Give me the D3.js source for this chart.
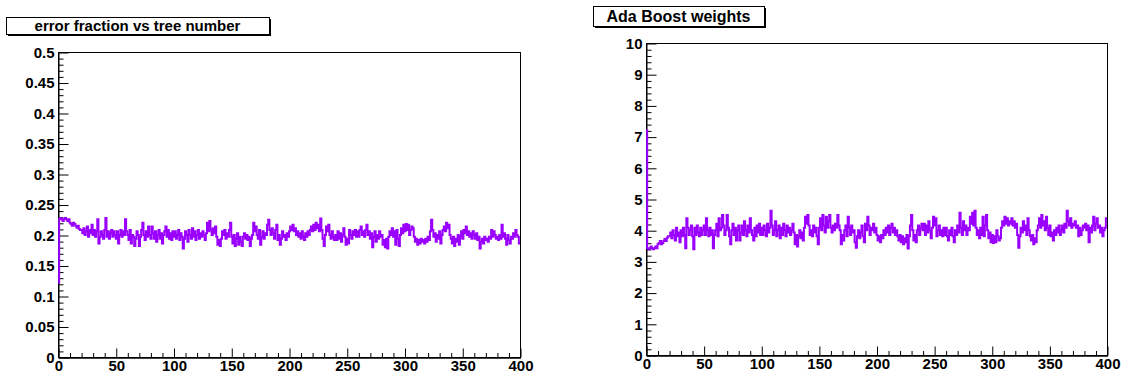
<!DOCTYPE html>
<html>
<head>
<meta charset="utf-8">
<script src="https://cdn.jsdelivr.net/npm/d3@7"></script>
<style>
  body { margin: 0; background: #fff; }
  svg { display: block; }
  text { font-family: "Liberation Sans", Arial, Helvetica, sans-serif; font-weight: bold; fill: #000; }
</style>
</head>
<body>
<svg id="chart" width="1125" height="379"></svg>
<script>
// Boosting monitor: error fraction and AdaBoost weight per tree (400 trees)
const treeTicks = [0, 50, 100, 150, 200, 250, 300, 350, 400];

const errorTicks = [0, 0.05, 0.1, 0.15, 0.2, 0.25, 0.3, 0.35, 0.4, 0.45, 0.5];
const errorTickLabels = ["0", "0.05", "0.1", "0.15", "0.2", "0.25", "0.3", "0.35", "0.4", "0.45", "0.5"];

const weightTicks = [0, 1, 2, 3, 4, 5, 6, 7, 8, 9, 10];
const weightTickLabels = ["0", "1", "2", "3", "4", "5", "6", "7", "8", "9", "10"];

const errorFraction = [
  0.122, 0.226, 0.228, 0.226, 0.223, 0.226, 0.228, 0.226, 0.223, 0.226, 0.220, 0.218, 0.215, 0.220, 0.218, 0.215, 0.212, 0.215, 0.210, 0.208,
  0.208, 0.203, 0.211, 0.200, 0.206, 0.214, 0.197, 0.208, 0.203, 0.217, 0.200, 0.208, 0.197, 0.206, 0.226, 0.186, 0.197, 0.206, 0.200, 0.194,
  0.208, 0.228, 0.197, 0.206, 0.194, 0.203, 0.208, 0.197, 0.206, 0.200, 0.194, 0.206, 0.186, 0.200, 0.208, 0.197, 0.206, 0.200, 0.226, 0.206,
  0.200, 0.192, 0.208, 0.186, 0.200, 0.197, 0.182, 0.194, 0.206, 0.200, 0.182, 0.197, 0.208, 0.220, 0.200, 0.192, 0.206, 0.197, 0.214, 0.200,
  0.194, 0.214, 0.203, 0.194, 0.206, 0.189, 0.200, 0.208, 0.194, 0.203, 0.186, 0.200, 0.206, 0.214, 0.197, 0.208, 0.194, 0.203, 0.192, 0.206,
  0.197, 0.206, 0.194, 0.200, 0.208, 0.192, 0.203, 0.197, 0.178, 0.194, 0.206, 0.200, 0.189, 0.208, 0.200, 0.194, 0.211, 0.197, 0.206, 0.192,
  0.200, 0.208, 0.194, 0.203, 0.197, 0.206, 0.200, 0.192, 0.203, 0.220, 0.206, 0.223, 0.208, 0.200, 0.211, 0.203, 0.214, 0.197, 0.184, 0.192,
  0.182, 0.194, 0.206, 0.200, 0.208, 0.194, 0.203, 0.197, 0.208, 0.220, 0.197, 0.186, 0.200, 0.182, 0.194, 0.203, 0.184, 0.197, 0.189, 0.182,
  0.197, 0.203, 0.194, 0.200, 0.192, 0.197, 0.182, 0.194, 0.200, 0.220, 0.206, 0.214, 0.200, 0.194, 0.208, 0.184, 0.197, 0.206, 0.194, 0.203,
  0.200, 0.217, 0.225, 0.208, 0.200, 0.211, 0.203, 0.194, 0.208, 0.217, 0.192, 0.200, 0.184, 0.194, 0.206, 0.197, 0.200, 0.192, 0.203, 0.197,
  0.206, 0.214, 0.208, 0.217, 0.206, 0.211, 0.200, 0.206, 0.197, 0.203, 0.194, 0.206, 0.197, 0.192, 0.203, 0.197, 0.206, 0.200, 0.208, 0.214,
  0.206, 0.217, 0.208, 0.220, 0.211, 0.217, 0.206, 0.227, 0.208, 0.194, 0.182, 0.200, 0.214, 0.206, 0.217, 0.200, 0.194, 0.206, 0.197, 0.192,
  0.200, 0.192, 0.206, 0.194, 0.203, 0.189, 0.200, 0.211, 0.197, 0.184, 0.194, 0.186, 0.208, 0.200, 0.194, 0.206, 0.200, 0.208, 0.197, 0.206,
  0.197, 0.208, 0.214, 0.200, 0.206, 0.197, 0.208, 0.217, 0.200, 0.206, 0.194, 0.203, 0.180, 0.197, 0.206, 0.189, 0.200, 0.194, 0.206, 0.197,
  0.200, 0.184, 0.192, 0.180, 0.194, 0.178, 0.197, 0.206, 0.200, 0.211, 0.197, 0.206, 0.184, 0.208, 0.194, 0.182, 0.200, 0.211, 0.203, 0.217,
  0.206, 0.218, 0.208, 0.217, 0.200, 0.208, 0.214, 0.211, 0.197, 0.189, 0.194, 0.184, 0.192, 0.186, 0.194, 0.189, 0.192, 0.186, 0.194, 0.189,
  0.197, 0.192, 0.206, 0.225, 0.208, 0.197, 0.203, 0.189, 0.200, 0.194, 0.206, 0.186, 0.200, 0.208, 0.214, 0.206, 0.220, 0.211, 0.217, 0.200,
  0.194, 0.186, 0.197, 0.182, 0.194, 0.189, 0.200, 0.184, 0.197, 0.206, 0.194, 0.208, 0.203, 0.214, 0.200, 0.206, 0.197, 0.203, 0.194, 0.206,
  0.200, 0.194, 0.203, 0.192, 0.197, 0.178, 0.189, 0.194, 0.186, 0.197, 0.192, 0.194, 0.189, 0.197, 0.194, 0.208, 0.197, 0.206, 0.200, 0.194,
  0.197, 0.192, 0.200, 0.194, 0.217, 0.197, 0.203, 0.194, 0.184, 0.200, 0.192, 0.186, 0.197, 0.194, 0.203, 0.197, 0.208, 0.200, 0.197, 0.186
];

const boostWeights = [
  7.20, 3.42, 3.39, 3.42, 3.48, 3.42, 3.39, 3.42, 3.48, 3.42, 3.55, 3.59, 3.65, 3.55, 3.59, 3.65, 3.72, 3.65, 3.76, 3.81,
  3.81, 3.93, 3.74, 4.00, 3.85, 3.67, 4.08, 3.81, 3.93, 3.61, 4.00, 3.81, 4.08, 3.85, 3.42, 4.38, 4.08, 3.85, 4.00, 4.15,
  3.81, 3.39, 4.08, 3.85, 4.15, 3.93, 3.81, 4.08, 3.85, 4.00, 4.15, 3.85, 4.38, 4.00, 3.81, 4.08, 3.85, 4.00, 3.42, 3.85,
  4.00, 4.21, 3.81, 4.38, 4.00, 4.08, 4.49, 4.15, 3.85, 4.00, 4.49, 4.08, 3.81, 3.55, 4.00, 4.21, 3.85, 4.08, 3.67, 4.00,
  4.15, 3.67, 3.93, 4.15, 3.85, 4.29, 4.00, 3.81, 4.15, 3.93, 4.38, 4.00, 3.85, 3.67, 4.08, 3.81, 4.15, 3.93, 4.21, 3.85,
  4.08, 3.85, 4.15, 4.00, 3.81, 4.21, 3.93, 4.08, 4.62, 4.15, 3.85, 4.00, 4.29, 3.81, 4.00, 4.15, 3.74, 4.08, 3.85, 4.21,
  4.00, 3.81, 4.15, 3.93, 4.08, 3.85, 4.00, 4.21, 3.93, 3.55, 3.85, 3.48, 3.81, 4.00, 3.74, 3.93, 3.67, 4.08, 4.43, 4.21,
  4.49, 4.15, 3.85, 4.00, 3.81, 4.15, 3.93, 4.08, 3.81, 3.55, 4.08, 4.38, 4.00, 4.49, 4.15, 3.93, 4.43, 4.08, 4.29, 4.49,
  4.08, 3.93, 4.15, 4.00, 4.21, 4.08, 4.49, 4.15, 4.00, 3.55, 3.85, 3.67, 4.00, 4.15, 3.81, 4.43, 4.08, 3.85, 4.15, 3.93,
  4.00, 3.61, 3.44, 3.81, 4.00, 3.74, 3.93, 4.15, 3.81, 3.61, 4.21, 4.00, 4.43, 4.15, 3.85, 4.08, 4.00, 4.21, 3.93, 4.08,
  3.85, 3.67, 3.81, 3.61, 3.85, 3.74, 4.00, 3.85, 4.08, 3.93, 4.15, 3.85, 4.08, 4.21, 3.93, 4.08, 3.85, 4.00, 3.81, 3.67,
  3.85, 3.61, 3.81, 3.55, 3.74, 3.61, 3.85, 3.41, 3.81, 4.15, 4.49, 4.00, 3.67, 3.85, 3.61, 4.00, 4.15, 3.85, 4.08, 4.21,
  4.00, 4.21, 3.85, 4.15, 3.93, 4.29, 4.00, 3.74, 4.08, 4.43, 4.15, 4.38, 3.81, 4.00, 4.15, 3.85, 4.00, 3.81, 4.08, 3.85,
  4.08, 3.81, 3.67, 4.00, 3.85, 4.08, 3.81, 3.61, 4.00, 3.85, 4.15, 3.93, 4.56, 4.08, 3.85, 4.29, 4.00, 4.15, 3.85, 4.08,
  4.00, 4.43, 4.21, 4.56, 4.15, 4.62, 4.08, 3.85, 4.00, 3.74, 4.08, 3.85, 4.43, 3.81, 4.15, 4.49, 4.00, 3.74, 3.93, 3.61,
  3.85, 3.59, 3.81, 3.61, 4.00, 3.81, 3.67, 3.74, 4.08, 4.29, 4.15, 4.43, 4.21, 4.38, 4.15, 4.29, 4.21, 4.38, 4.15, 4.29,
  4.08, 4.21, 3.85, 3.44, 3.81, 4.08, 3.93, 4.29, 4.00, 4.15, 3.85, 4.38, 4.00, 3.81, 3.67, 3.85, 3.55, 3.74, 3.61, 4.00,
  4.15, 4.38, 4.08, 4.49, 4.15, 4.29, 4.00, 4.43, 4.08, 3.85, 4.15, 3.81, 3.93, 3.67, 4.00, 3.85, 4.08, 3.93, 4.15, 3.85,
  4.00, 4.15, 3.93, 4.21, 4.08, 4.62, 4.29, 4.15, 4.38, 4.08, 4.21, 4.15, 4.29, 4.08, 4.15, 3.81, 4.08, 3.85, 4.00, 4.15,
  4.08, 4.21, 4.00, 4.15, 3.61, 4.08, 3.93, 4.15, 4.43, 4.00, 4.21, 4.38, 4.08, 4.15, 3.93, 4.08, 3.81, 4.00, 4.08, 4.38
];

const LINE_COLOR = "#9a00ff";
const svg = d3.select("#chart");

const panels = [
  {
    id: "err",
    title: "error fraction vs tree number",
    titleFont: 15,
    box: { x: 6, y: 17, w: 263, h: 17, baseline: 31 },
    frame: { left: 58, right: 520, top: 52, bottom: 357 },
    yMax: 0.5,
    yTicks: errorTicks,
    yLabels: errorTickLabels,
    values: errorFraction
  },
  {
    id: "wgt",
    title: "Ada Boost weights",
    titleFont: 16,
    box: { x: 593, y: 6, w: 171, h: 20, baseline: 21.5 },
    frame: { left: 646, right: 1107, top: 43, bottom: 355 },
    yMax: 10,
    yTicks: weightTicks,
    yLabels: weightTickLabels,
    values: boostWeights
  }
];

// four minor divisions between consecutive major ticks
function minorValues(major) {
  const out = [];
  for (let i = 0; i < major.length - 1; i++) {
    const a = major[i], b = major[i + 1];
    for (let k = 1; k < 5; k++) out.push(a + (b - a) * k / 5);
  }
  return out;
}

panels.forEach(p => {
  const f = p.frame;
  const x = d3.scaleLinear().domain([0, 400]).range([f.left, f.right]);
  const y = d3.scaleLinear().domain([0, p.yMax]).range([f.bottom, f.top]);
  const g = svg.append("g").attr("class", "panel-" + p.id);

  // frame
  g.append("rect")
    .attr("x", f.left + 0.5).attr("y", f.top + 0.5)
    .attr("width", f.right - f.left).attr("height", f.bottom - f.top)
    .attr("fill", "none").attr("stroke", "#000").attr("stroke-width", 1);

  // y axis: major + minor ticks pointing into the frame
  const yMajor = d3.axisLeft(y)
    .tickValues(p.yTicks)
    .tickFormat((d, i) => p.yLabels[i])
    .tickSizeInner(-10).tickSizeOuter(0).tickPadding(4);
  const yAx = g.append("g").attr("transform", `translate(${f.left + 0.5},0.5)`).call(yMajor);
  yAx.selectAll("text").style("font-size", "15px").attr("fill", "#000");
  yAx.select(".domain").attr("stroke", "#000");

  const yMinor = d3.axisLeft(y)
    .tickValues(minorValues(p.yTicks))
    .tickFormat("")
    .tickSizeInner(-5).tickSizeOuter(0);
  const yMinAx = g.append("g").attr("transform", `translate(${f.left + 0.5},0.5)`).call(yMinor);
  yMinAx.select(".domain").remove();

  // x axis
  const xMajor = d3.axisBottom(x)
    .tickValues(treeTicks)
    .tickSizeInner(-9).tickSizeOuter(0).tickPadding(3);
  const xAx = g.append("g").attr("transform", `translate(0.5,${f.bottom + 0.5})`).call(xMajor);
  xAx.selectAll("text").style("font-size", "15px").attr("fill", "#000").attr("dy", "0.72em");
  xAx.select(".domain").attr("stroke", "#000").attr("stroke-width", 1.5);

  const xMinor = d3.axisBottom(x)
    .tickValues(minorValues(treeTicks))
    .tickFormat("")
    .tickSizeInner(-4.5).tickSizeOuter(0);
  const xMinAx = g.append("g").attr("transform", `translate(0.5,${f.bottom + 0.5})`).call(xMinor);
  xMinAx.select(".domain").remove();

  g.selectAll(".tick line").attr("stroke", "#000");

  // histogram outline, drawn over the axes as a step line across bin edges
  svg.append("clipPath").attr("id", "clip-" + p.id)
    .append("rect")
    .attr("x", f.left - 1).attr("y", f.top)
    .attr("width", f.right - f.left + 1).attr("height", f.bottom - f.top);

  const pts = p.values.map((v, i) => [i, v]);
  pts.push([p.values.length, p.values[p.values.length - 1]]);
  const line = d3.line()
    .x(d => x(d[0]))
    .y(d => y(d[1]))
    .curve(d3.curveStepAfter);
  g.append("path")
    .datum(pts)
    .attr("clip-path", "url(#clip-" + p.id + ")")
    .attr("fill", "none")
    .attr("stroke", LINE_COLOR)
    .attr("stroke-width", 2)
    .attr("d", line);

  // title box with drop shadow
  const b = p.box;
  g.append("rect")
    .attr("x", b.x + 2).attr("y", b.y + 2)
    .attr("width", b.w).attr("height", b.h)
    .attr("fill", "#000");
  g.append("rect")
    .attr("x", b.x + 0.5).attr("y", b.y + 0.5)
    .attr("width", b.w).attr("height", b.h)
    .attr("fill", "#fff").attr("stroke", "#000").attr("stroke-width", 1);
  g.append("text")
    .attr("x", b.x + b.w / 2).attr("y", b.baseline)
    .attr("text-anchor", "middle")
    .style("font-size", p.titleFont + "px")
    .text(p.title);
});
</script>
</body>
</html>
